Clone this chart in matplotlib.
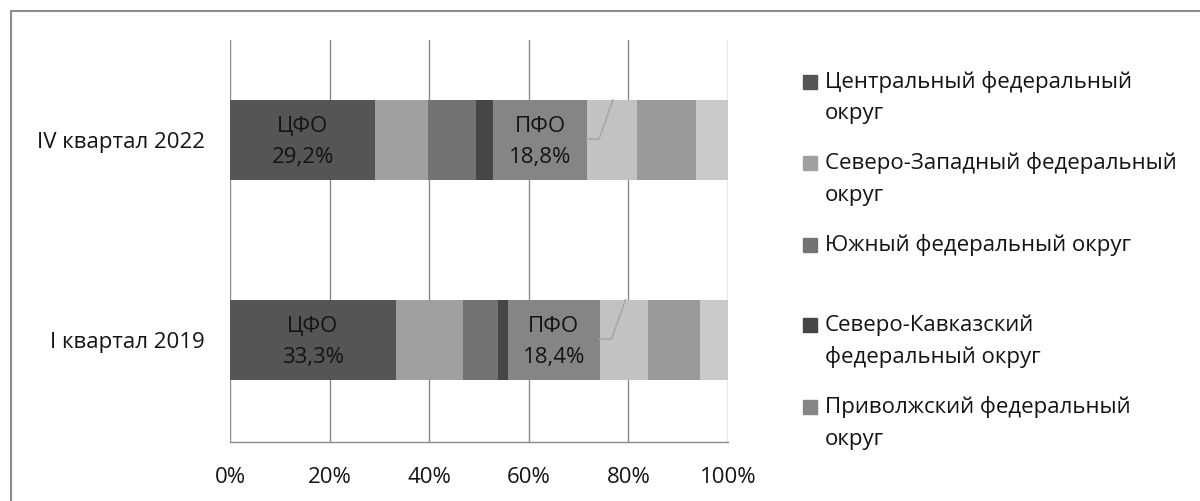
import matplotlib
matplotlib.use("Agg")
import matplotlib.pyplot as plt
from matplotlib.patches import Rectangle
from matplotlib.lines import Line2D

plt.rcParams['font.family'] = ['Open Sans', 'DejaVu Sans']

# Periods (bottom to top) and shares of federal districts, %
periods = ["I квартал 2019", "IV квартал 2022"]
districts = [
    "Центральный федеральный округ",
    "Северо-Западный федеральный округ",
    "Южный федеральный округ",
    "Северо-Кавказский федеральный округ",
    "Приволжский федеральный округ",
    "Уральский федеральный округ",
    "Сибирский федеральный округ",
    "Дальневосточный федеральный округ",
]
shares_2019 = [33.3, 13.4, 7.1, 2.0, 18.4, 9.7, 10.5, 5.6]
shares_2022 = [29.2, 10.5, 9.6, 3.6, 18.8, 10.1, 11.7, 6.5]
short_names = ["ЦФО", None, None, None, "ПФО", None, None, None]

# Legend text as it wraps next to the plot (first five districts)
legend_lines = [
    ["Центральный федеральный", "округ"],
    ["Северо-Западный федеральный", "округ"],
    ["Южный федеральный округ", ""],
    ["Северо-Кавказский", "федеральный округ"],
    ["Приволжский федеральный", "округ"],
]

colors = ["#555555", "#a0a0a0", "#737373", "#464646",
          "#858585", "#c2c2c2", "#9a9a9a", "#cacaca"]
text_color = "#141414"
grid_color = "#8a8a8a"
fs = 16

W, H = 1200, 501
fig = plt.figure(figsize=(W / 100, H / 100), dpi=100)
ax = fig.add_axes([230 / W, 1 - 442 / H, (728 - 230) / W, (442 - 40) / H])

values = [shares_2019, shares_2022]
bar_h = 0.4
for yi, row in enumerate(values):
    left = 0.0
    for si, v in enumerate(row):
        ax.barh(yi, v, left=left, height=bar_h, color=colors[si], edgecolor="none", zorder=3)
        if short_names[si]:
            ax.text(left + v / 2, yi + 0.065, short_names[si], ha="center", va="center",
                    fontsize=fs, color=text_color, zorder=4)
            ax.text(left + v / 2, yi - 0.085, f"{v:.1f}%".replace(".", ","), ha="center",
                    va="center", fontsize=fs, color=text_color, zorder=4)
        left += v

# Leader lines left over from the Volga district labels
pfo_end = [sum(r[:5]) for r in values]
for yi, x0 in enumerate(pfo_end):
    ax.add_line(Line2D([x0, x0 + 2.4, x0 + 5.2], [yi + 0.005, yi + 0.005, yi + bar_h / 2],
                       color="#a8a8a8", lw=1.2, zorder=4))

ax.set_xlim(0, 100)
ax.set_ylim(-0.51, 1.5)
ax.set_xticks(range(0, 101, 20))
ax.set_xticklabels([f"{t}%" for t in range(0, 101, 20)], fontsize=fs, color=text_color)
ax.set_yticks([0, 1])
ax.set_yticklabels(periods, fontsize=fs, color=text_color)
ax.tick_params(axis="both", length=0)
ax.tick_params(axis="x", pad=18)
ax.tick_params(axis="y", pad=18)
ax.grid(axis="x", color=grid_color, lw=1.0, zorder=0)
for s in ["top", "right", "left"]:
    ax.spines[s].set_visible(False)
ax.spines["bottom"].set_color(grid_color)
ax.spines["bottom"].set_linewidth(1.0)

# Legend drawn beside the plot
sq = 14
x_sq, x_txt = 803, 825
entry_y = [82, 163, 245, 325, 407]
line_gap = 32
for i, (lines, y0) in enumerate(zip(legend_lines, entry_y)):
    fig.patches.append(Rectangle((x_sq / W, 1 - (y0 + sq / 2) / H), sq / W, sq / H,
                                 transform=fig.transFigure, color=colors[i]))
    for k, t in enumerate(lines):
        if t:
            fig.text(x_txt / W, 1 - (y0 + k * line_gap) / H, t, ha="left", va="center",
                     fontsize=fs, color=text_color)

# Chart area frame
fig.add_artist(Line2D([11 / W, 11 / W, 1.0], [0.0, 1 - 11 / H, 1 - 11 / H],
                      transform=fig.transFigure, color="#8c8c8c", lw=1.5))

fig.savefig("out.png", dpi=100)
